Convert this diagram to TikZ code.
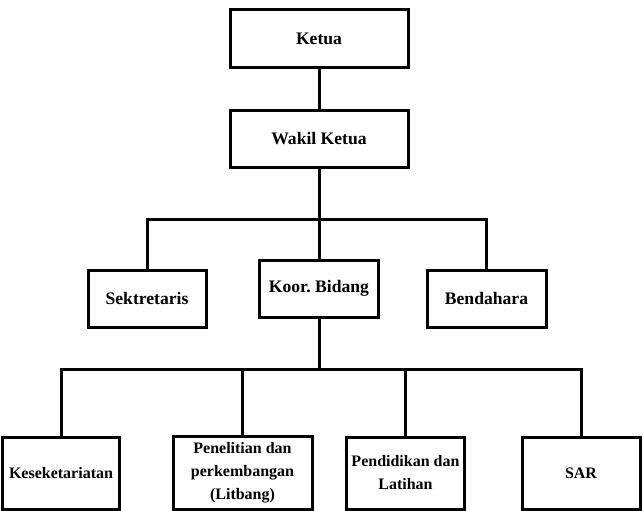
\documentclass[tikz,border=0pt]{standalone}
\usepackage{fontspec}
\setmainfont{Liberation Serif}
\frenchspacing
\begin{document}
\begin{tikzpicture}[x=1pt,y=-1pt,
  box/.style={draw=black,line width=3pt,rectangle,inner sep=0pt,
    font=\fontsize{17.6}{21}\selectfont\bfseries,align=center},
  sbox/.style={box,font=\fontsize{16}{23}\selectfont\bfseries},
  conn/.style={draw=black,line width=3pt}]
\useasboundingbox[fill=white] (0,0) rectangle (643,511);
\node[box,minimum width=178pt,minimum height=58pt] (ketua) at (319,38.5) {\raisebox{-1.5pt}{Ketua}};
\node[box,minimum width=178pt,minimum height=57pt] (wakil) at (319,138.5) {Wakil Ketua};
\node[box,minimum width=118pt,minimum height=57pt] (sek) at (147,298.5) {Sektretaris};
\node[box,minimum width=119pt,minimum height=57pt] (koor) at (319,288.5) {Koor.\ Bidang};
\node[box,minimum width=119pt,minimum height=57pt] (ben) at (486.5,298.5) {Bendahara};
\node[sbox,minimum width=117pt,minimum height=72pt] (kes) at (61,473) {Keseketariatan};
\node[sbox,minimum width=139pt,minimum height=73pt] (pen) at (242.5,472.5) {Penelitian dan\\perkembangan\\(Litbang)};
\node[sbox,minimum width=118pt,minimum height=72pt] (pend) at (405.5,473) {Pendidikan dan\\Latihan};
\node[sbox,minimum width=118pt,minimum height=72pt] (sar) at (581,473) {SAR};
\coordinate (bus1) at (319,219);
\coordinate (bus2) at (319,369);
\draw[conn] (ketua.south) -- (wakil.north);
\draw[conn] (wakil.south) -- (koor.north);
\draw[conn] (sek.north) |- (ben.north |- bus1) -- (ben.north);
\draw[conn] (koor.south) -- (koor.south |- bus2);
\draw[conn] (kes.north) |- (sar.north |- bus2) -- (sar.north);
\draw[conn] (pen.north) -- (pen.north |- bus2);
\draw[conn] (pend.north) -- (pend.north |- bus2);
\end{tikzpicture}
\end{document}
